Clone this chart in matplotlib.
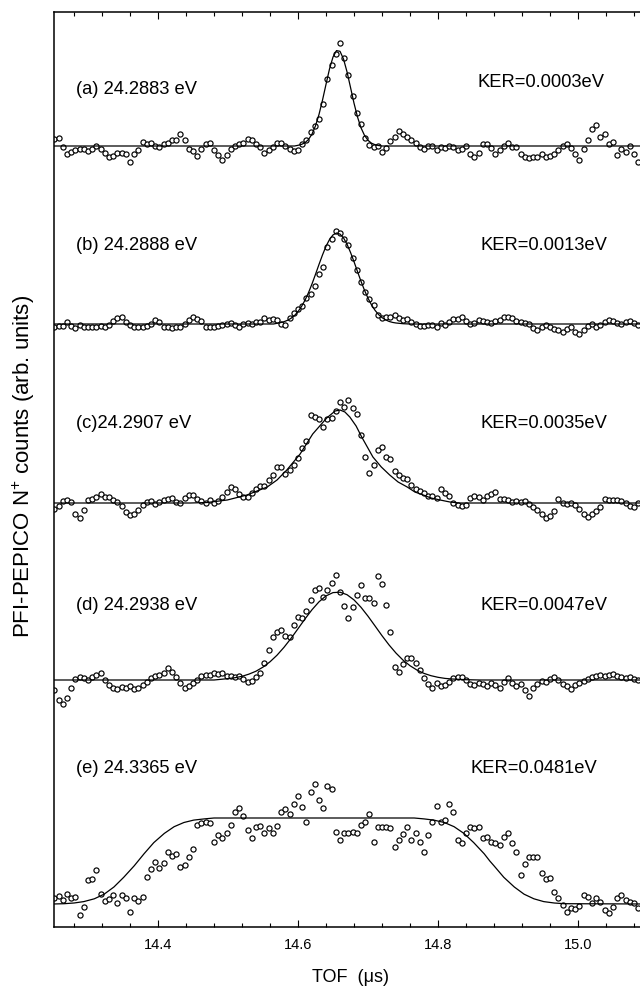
import numpy as np
import matplotlib.pyplot as plt
from matplotlib.ticker import MultipleLocator

plt.rcParams['font.family'] = ['Liberation Sans', 'DejaVu Sans']
plt.rcParams['mathtext.fontset'] = 'custom'
plt.rcParams['mathtext.rm'] = 'Liberation Sans'
plt.rcParams['mathtext.default'] = 'regular'

# TOF bins (us)
tof = np.round(14.252 + 0.006 * np.arange(140), 4)

# counts above background (arb. units)
counts_a = [7, 8, -1, -8, -6, -4, -3, -3, -5, -3,
            0, -3, -7, -11, -10, -7, -7, -8, -16, -8,
            -4, 4, 2, 3, 0, -1, 2, 3, 6, 6,
            12, 6, -3, -5, -10, -3, 2, 3, -4, -9,
            -14, -9, -3, 0, 2, 3, 7, 6, 2, -1,
            -7, -4, -1, 3, 3, 0, -3, -5, -4, 2,
            6, 14, 20, 27, 42, 67, 81, 92, 103, 88,
            71, 50, 33, 22, 8, 1, -1, 0, -6, -2,
            5, 9, 15, 12, 9, 6, 3, -1, -3, 0,
            0, -4, -1, -2, 0, -1, -4, -3, 0, -8,
            -11, -7, 2, 2, -2, -8, -4, 0, 3, -1,
            -1, -8, -11, -12, -11, -11, -8, -11, -10, -8,
            -4, 0, 2, -2, -8, -14, -3, 6, 17, 21,
            9, 12, 2, 4, -9, -3, -6, 0, -8, -16]
counts_b = [-3, -2, -2, 2, -2, -4, -1, -3, -3, -3,
            -3, -2, -3, -1, 3, 6, 7, 2, -1, -3,
            -3, -3, -2, 0, 4, 2, -3, -3, -4, -3,
            -3, 0, 4, 7, 5, 3, -3, -3, -3, -2,
            -1, 0, 1, -1, -3, 0, 1, 0, 2, 2,
            6, 4, 5, 4, 0, -1, 6, 11, 15, 18,
            26, 30, 38, 50, 57, 77, 85, 93, 91, 85,
            79, 66, 54, 42, 32, 25, 19, 9, 6, 7,
            7, 9, 6, 4, 5, 2, 0, -2, -2, -1,
            -1, -3, 1, -1, 2, 5, 5, 7, 3, 0,
            1, 4, 3, 2, 1, 3, 4, 7, 7, 6,
            3, 2, 1, 0, -4, -6, -3, -1, -3, -5,
            -6, -8, -5, -3, -8, -10, -6, -2, 0, -3,
            -1, 2, 4, 3, 1, 0, 2, 3, 1, -1]
counts_c = [-6, -3, 2, 3, 1, -11, -15, -7, 3, 4,
            6, 9, 6, 6, 3, 1, -3, -9, -12, -11,
            -7, -2, 1, 2, -1, 1, 3, 4, 5, 1,
            0, 5, 8, 8, 4, 2, 0, 3, 0, 2,
            6, 11, 16, 14, 9, 6, 6, 10, 14, 17,
            17, 23, 28, 36, 36, 29, 33, 38, 45, 55,
            62, 88, 86, 84, 76, 84, 85, 92, 101, 96,
            103, 95, 89, 68, 46, 30, 38, 53, 56, 46,
            44, 32, 28, 25, 24, 18, 14, 12, 10, 7,
            7, 5, 14, 10, 7, 0, -2, -3, -2, 5,
            7, 6, 3, 7, 9, 11, 4, 4, 3, 1,
            2, 1, 2, -1, -4, -7, -11, -15, -13, -8,
            4, 0, -1, 0, -2, -6, -11, -14, -11, -8,
            -4, 4, 3, 3, 3, 2, 0, -3, -4, 0]
counts_d = [-10, -20, -24, -18, -8, 1, 3, 2, 0, 3,
            5, 7, 0, -5, -8, -9, -7, -8, -6, -9,
            -8, -5, -2, 2, 4, 5, 7, 12, 8, 3,
            -3, -8, -6, -3, 0, 4, 5, 5, 7, 6,
            7, 4, 4, 3, 4, 1, -2, -1, 3, 7,
            17, 30, 43, 48, 50, 44, 43, 55, 63, 62,
            69, 80, 90, 92, 83, 90, 97, 105, 88, 74,
            62, 73, 85, 95, 82, 82, 77, 104, 96, 75,
            48, 13, 8, 16, 22, 22, 17, 10, 2, -4,
            -8, -3, -6, -5, -2, 2, 3, 3, 0, -4,
            -5, -3, -4, -6, -3, -5, -8, -2, 2, -3,
            -6, -4, -10, -16, -8, -4, -1, -2, 1, 3,
            0, -4, -6, -9, -5, -3, -1, 1, 3, 4,
            5, 4, 5, 6, 4, 3, 2, 3, 1, 0]
counts_e = [6, 8, 4, 10, 6, 7, -11, -3, 24, 25,
            34, 10, 3, 5, 9, 1, 9, 6, -8, 6,
            3, 7, 27, 35, 42, 36, 41, 52, 48, 50,
            37, 39, 47, 55, 79, 81, 82, 81, 62, 69,
            66, 71, 79, 92, 96, 88, 74, 66, 77, 78,
            71, 76, 71, 78, 92, 95, 90, 100, 108, 97,
            82, 112, 120, 104, 96, 118, 115, 72, 64, 71,
            71, 72, 71, 79, 82, 90, 62, 77, 77, 77,
            76, 57, 64, 70, 77, 64, 71, 62, 52, 69,
            82, 98, 82, 84, 100, 92, 64, 61, 71, 77,
            76, 77, 66, 67, 62, 61, 59, 67, 71, 61,
            52, 29, 40, 47, 47, 47, 31, 25, 26, 12,
            6, -1, -8, -4, -5, -2, 9, 7, 1, 6,
            2, -6, -9, -3, 6, 9, 4, 2, 1, -4]

# fitted curves at these TOF values
fit_a_tof = [14.25, 14.595, 14.60, 14.605, 14.61, 14.615, 14.62, 14.625, 14.63,
             14.635, 14.64, 14.645, 14.65, 14.655, 14.66, 14.665, 14.67, 14.675,
             14.68, 14.685, 14.69, 14.695, 14.70, 14.705, 14.71, 14.715, 14.72, 15.10]
fit_a_val = [0, 0, 0.7, 1.6, 3.3, 6.5, 11.9, 20.2, 31.6,
             45.9, 61.7, 77.1, 89.0, 95.4, 94.7, 87.0, 74.2, 58.6,
             42.8, 29.0, 18.2, 10.6, 5.7, 2.8, 1.3, 0.5, 0, 0]
fit_b_tof = [14.25, 14.565, 14.575, 14.58, 14.585, 14.59, 14.595, 14.60, 14.605,
             14.61, 14.615, 14.62, 14.625, 14.63, 14.635, 14.64, 14.645, 14.65,
             14.655, 14.66, 14.665, 14.67, 14.675, 14.68, 14.685, 14.69, 14.695,
             14.70, 14.705, 14.71, 14.715, 14.72, 14.725, 14.73, 14.735, 14.74,
             14.75, 14.76, 15.10]
fit_b_val = [0, 0, 1.4, 2.3, 3.7, 5.7, 8.5, 12.4, 17.5,
             23.8, 31.4, 40.1, 49.7, 59.6, 69.1, 77.7, 84.5, 89.1,
             91.0, 89.9, 86.1, 79.8, 71.6, 62.3, 52.4, 42.7, 33.7,
             25.8, 19.1, 13.7, 9.5, 6.4, 4.2, 2.6, 1.6, 1.0,
             0.3, 0, 0]
fit_c_tof = [14.25, 14.446, 14.47, 14.499, 14.527, 14.556, 14.57, 14.584, 14.603,
             14.621, 14.631, 14.641, 14.653, 14.66, 14.667, 14.674, 14.683, 14.691,
             14.699, 14.707, 14.719, 14.731, 14.743, 14.756, 14.767, 14.779, 14.79,
             14.803, 14.817, 14.831, 15.10]
fit_c_val = [0, 0, 0.5, 3, 8, 16, 23, 33, 49,
             69, 77, 85, 92, 93, 91, 86, 77, 66,
             56, 46, 36, 28, 21, 16, 11, 8, 5,
             3, 1, 0, 0]
fit_d_tof = [14.25, 14.48, 14.50, 14.51, 14.52, 14.53, 14.54, 14.55, 14.56, 14.57,
             14.58, 14.59, 14.60, 14.61, 14.62, 14.63, 14.64, 14.65, 14.66,
             14.67, 14.68, 14.69, 14.70, 14.71, 14.72, 14.73, 14.74, 14.75,
             14.76, 14.77, 14.78, 14.79, 14.80, 14.81, 14.82, 14.84, 14.86, 15.10]
fit_d_val = [0, 0, 1.4, 2.3, 3.7, 5.9, 8.8, 12.9, 18.2, 24.8,
             32.7, 41.6, 51.3, 61.1, 70.3, 78.2, 84.1, 87.4, 87.8,
             85.3, 80.1, 72.7, 63.8, 54.1, 44.3, 35.1, 26.9, 19.9,
             14.3, 9.9, 6.6, 4.3, 2.7, 1.6, 1.0, 0.3, 0, 0]
fit_e_tof = [14.25, 14.266, 14.280, 14.294, 14.309, 14.323, 14.337, 14.351, 14.366,
             14.380, 14.394, 14.409, 14.423, 14.437, 14.451, 14.466, 14.480,
             14.766, 14.780, 14.794, 14.809, 14.823, 14.837, 14.851, 14.866,
             14.874, 14.880, 14.894, 14.909, 14.923, 14.937, 14.951, 14.966,
             14.980, 15.10]
fit_e_val = [0, 0.3, 1.0, 2.4, 5.2, 9.8, 17.0, 26.7, 38.2,
             50.2, 61.4, 70.6, 77.3, 81.5, 83.9, 85.1, 86.0,
             86.0, 85.1, 83.9, 81.5, 77.3, 70.6, 61.4, 50.2,
             43.0, 38.2, 26.7, 17.0, 9.8, 5.2, 2.4, 1.0,
             0.3, 0]

photon_labels = ['(a) 24.2883 eV', '(b) 24.2888 eV', '(c)24.2907 eV',
                 '(d) 24.2938 eV', '(e) 24.3365 eV']
ker_labels = ['KER=0.0003eV', 'KER=0.0013eV', 'KER=0.0035eV',
              'KER=0.0047eV', 'KER=0.0481eV']

# layout: vertical offset of each trace and its label height above it
offsets = [781, 603, 424, 247, 23]
label_dy = [56, 79, 80, 75, 136]
ker_dy = [63, 79, 80, 75, 136]
ker_x = [14.857, 14.86, 14.86, 14.86, 14.846]

counts = [counts_a, counts_b, counts_c, counts_d, counts_e]
fits = [(fit_a_tof, fit_a_val), (fit_b_tof, fit_b_val), (fit_c_tof, fit_c_val),
        (fit_d_tof, fit_d_val), (fit_e_tof, fit_e_val)]

fig = plt.figure(figsize=(6.4, 9.88), dpi=100)
ax = fig.add_axes([54 / 640, 61 / 988, 594 / 640, 915 / 988])

for k in range(5):
    off = offsets[k]
    ft, fv = fits[k]
    ax.plot(ft, np.array(fv) + off, color='black', lw=0.9, zorder=3)
    ax.plot(tof, np.array(counts[k]) + off, 'o', ms=3.7, mfc='white',
            mec='black', mew=0.85, zorder=2)
    ax.text(14.283, off + label_dy[k], photon_labels[k], fontsize=13.2,
            ha='left', va='center')
    ax.text(ker_x[k], off + ker_dy[k], ker_labels[k], fontsize=13.2,
            ha='left', va='center')

ax.set_xlim(14.2514, 15.1)
ax.set_ylim(0, 915)
ax.set_xticks([14.4, 14.6, 14.8, 15.0])
ax.set_xticklabels(['14.4', '14.6', '14.8', '15.0'])
ax.xaxis.set_minor_locator(MultipleLocator(0.04))
ax.tick_params(axis='x', which='both', direction='in', top=True, bottom=True,
               labelsize=10.5, pad=8, width=0.8)
ax.tick_params(axis='x', which='major', length=5)
ax.tick_params(axis='x', which='minor', length=3)
ax.set_yticks([])
ax.spines['right'].set_visible(False)
for s in ['left', 'top', 'bottom']:
    ax.spines[s].set_linewidth(1.1)

fig.text(24 / 640, 1 - 466 / 988, 'PFI-PEPICO N$^{+}$ counts (arb. units)',
         rotation=90, ha='center', va='center', fontsize=16)
fig.text(351 / 640, 1 - 977 / 988, 'TOF  (\u03bcs)', ha='center', va='center',
         fontsize=13)

fig.savefig('out.png', dpi=100)
